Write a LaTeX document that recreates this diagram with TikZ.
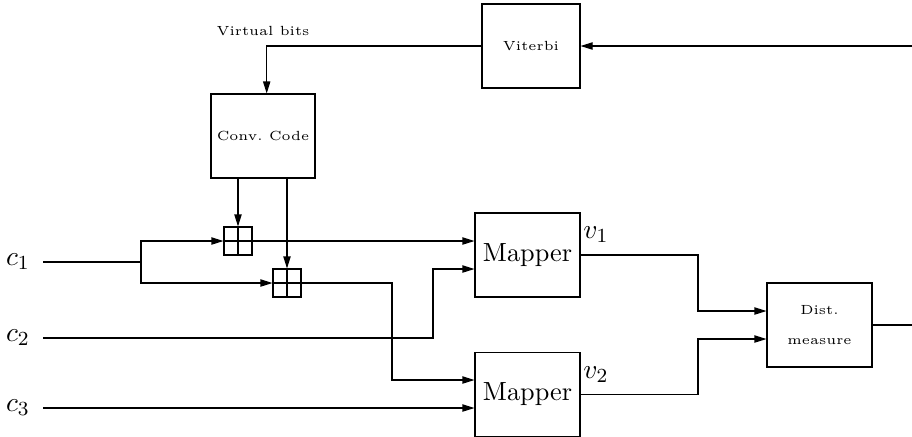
\documentclass[tikz,border=0pt]{standalone}
\usetikzlibrary{arrows.meta,calc}
\begin{document}
\begin{tikzpicture}[x=0.4pt,y=-0.4pt,
  line width=0.42pt,
  >={Triangle[length=4.8pt,width=2.9pt]},
  blk/.style={draw,rectangle,inner sep=0pt,align=center},
  small/.style={font=\fontsize{5.3}{6}\selectfont},
  xorbox/.style={draw,rectangle,inner sep=0pt,minimum size=11.2pt,
    path picture={\draw (path picture bounding box.north) -- (path picture bounding box.south)
      (path picture bounding box.west) -- (path picture bounding box.east);}},
  lbl/.style={font=\fontsize{11}{13}\selectfont,inner sep=0pt}]
\useasboundingbox (0,0) rectangle (912,436);
% blocks
\node[blk,small,minimum width=39.2pt,minimum height=33.6pt] (vit) at (531,46) {Viterbi};
\node[blk,small,minimum width=41.6pt,minimum height=33.6pt] (conv) at (263,136) {Conv.\ Code};
\node[xorbox] (x1) at (238,241) {};
\node[xorbox] (x2) at (287,283) {};
\node[blk,font=\fontsize{10.5}{12}\selectfont,minimum width=42pt,minimum height=33.6pt] (m1) at (527.5,255) {Mapper};
\node[blk,font=\fontsize{10.5}{12}\selectfont,minimum width=42pt,minimum height=33.6pt] (m2) at (527.5,394.5) {Mapper};
\node[blk,small,minimum width=42pt,minimum height=33.6pt] (dist) at (819.5,325) {Dist.\\[6pt]measure};
% labels
\node[small] (vb) at (263,31) {Virtual bits};
\node[lbl] (c1) at (18,262) {$c_1$};
\node[lbl] (c2) at (18,338) {$c_2$};
\node[lbl] (c3) at (18,408) {$c_3$};
\node[lbl] (v1) at (596,235) {$v_1$};
\node[lbl] (v2) at (596,375) {$v_2$};
% coordinates
\coordinate (vin) at (912,46);
\coordinate (dout) at (912,325);
\coordinate (c1s) at (43,262);
\coordinate (c2s) at (43,338);
\coordinate (c3s) at (43,408);
\coordinate (br) at (141,262);
% connectors
\draw[->] (vin) -- (vit.east);
\draw[->] (vit.west) -| ($(conv.north)+(3.7,0)$);
\draw[->] (conv.south -| x1.north) -- (x1.north);
\draw[->] (conv.south -| x2.north) -- (x2.north);
\draw (c1s) -- (br);
\draw[->] (br) |- (x1.west);
\draw[->] (br) |- (x2.west);
\draw[->] (x1.east) -- (x1.east -| m1.west);
\draw[->] (x2.east) -- (392,283) -- (392,380) -- (m2.west |- 0,380);
\draw[->] (c2s) -- (433,338) -- (433,269) -- (m1.west |- 0,269);
\draw[->] (c3s) -- (m2.west |- 0,408);
\draw[->] (m1.east) -- (698,255) -- (698,311) -- (dist.west |- 0,311);
\draw[->] (m2.east) -- (698,394.5) -- (698,339) -- (dist.west |- 0,339);
\draw (dist.east) -- (dout);
\end{tikzpicture}
\end{document}
